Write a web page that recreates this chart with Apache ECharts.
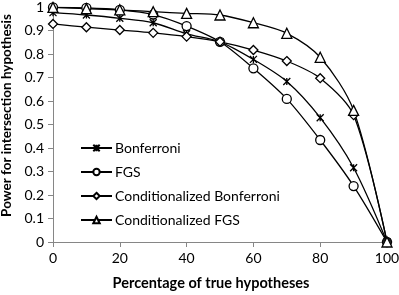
<!DOCTYPE html>
<html><head><meta charset="utf-8">
<script src="https://cdn.jsdelivr.net/npm/echarts@6/dist/echarts.min.js"></script>
<style>html,body{margin:0;padding:0;background:#fff}#c{width:399px;height:295px}</style>
</head><body><div id="c"></div>
<script>
var xValues = [0, 10, 20, 30, 40, 50, 60, 70, 80, 90, 100];
var bonferroni = [0.976, 0.966, 0.952, 0.933, 0.886, 0.852, 0.777, 0.683, 0.529, 0.316, 0];
var fgs = [0.998, 0.996, 0.988, 0.968, 0.919, 0.852, 0.739, 0.609, 0.434, 0.238, 0];
var condBonferroni = [0.928, 0.914, 0.902, 0.89, 0.874, 0.852, 0.817, 0.77, 0.697, 0.54, 0];
var condFGS = [0.998, 0.993, 0.988, 0.98, 0.973, 0.966, 0.933, 0.888, 0.786, 0.56, 0];
var seriesNames = ['Bonferroni', 'FGS', 'Conditionalized Bonferroni', 'Conditionalized FGS'];
var xTicks = [0, 20, 40, 60, 80, 100];
var yTicks = [0, 0.1, 0.2, 0.3, 0.4, 0.5, 0.6, 0.7, 0.8, 0.9, 1];

var FONT = 'Lato';
function pairs(v){ return xValues.map(function(x,i){ return [x, v[i]]; }); }
var starPath = 'path://M0,0L10,10M10,0L0,10M5,0L5,10';
function mk(name, data, symbol, size){
  return {
    name: name, type: 'line', data: pairs(data), smooth: 0.3,
    symbol: symbol, symbolSize: size,
    lineStyle: {color: '#000', width: 1.3},
    itemStyle: {color: '#fff', borderColor: '#000', borderWidth: 1.3},
    z: 3
  };
}
var chart = echarts.init(document.getElementById('c'), null, {renderer: 'canvas'});
chart.setOption({
  animation: false,
  backgroundColor: '#fff',
  grid: {left: 53, right: 12, top: 7, bottom: 53, containLabel: false, outerBoundsMode: 'none'},
  xAxis: {
    type: 'value', min: 0, max: 100, interval: 20,
    name: 'Percentage of true hypotheses', nameLocation: 'middle', nameGap: 34,
    nameTextStyle: {fontFamily: FONT, fontWeight: 'bold', fontSize: 14.5, color: '#000', padding: [0, 18, 0, 0]},
    axisLine: {lineStyle: {color: '#868686', width: 1}},
    axisTick: {show: true, length: 5, lineStyle: {color: '#868686'}},
    axisLabel: {fontFamily: FONT, fontSize: 14, color: '#000', margin: 9,
      formatter: function(v){ return xTicks.indexOf(v) >= 0 ? String(v) : ''; }},
    splitLine: {show: false}
  },
  yAxis: {
    type: 'value', min: 0, max: 1, interval: 0.1,
    name: 'Power for intersection hypothesis', nameLocation: 'middle', nameGap: 38,
    nameTextStyle: {fontFamily: FONT, fontWeight: 'bold', fontSize: 13.5, color: '#000', padding: [0, 0, 0, 18]},
    axisLine: {show: true, lineStyle: {color: '#868686', width: 1}},
    axisTick: {show: true, length: 5, lineStyle: {color: '#868686'}},
    axisLabel: {fontFamily: FONT, fontSize: 14, color: '#000', margin: 9,
      formatter: function(v){ var r = Math.round(v*10)/10; return yTicks.indexOf(r) >= 0 ? String(r) : ''; }},
    splitLine: {show: false}
  },
  legend: {
    orient: 'vertical', left: 75, top: 136, itemGap: 10,
    itemWidth: 31, itemHeight: 8,
    textStyle: {fontFamily: FONT, fontSize: 14, color: '#000', padding: [0,0,0,-2]},
    data: seriesNames
  },
  series: [
    mk(seriesNames[0], bonferroni, starPath, 7),
    mk(seriesNames[1], fgs, 'circle', 9),
    mk(seriesNames[2], condBonferroni, 'diamond', 9),
    mk(seriesNames[3], condFGS, 'triangle', 10)
  ]
});
</script></body></html>
